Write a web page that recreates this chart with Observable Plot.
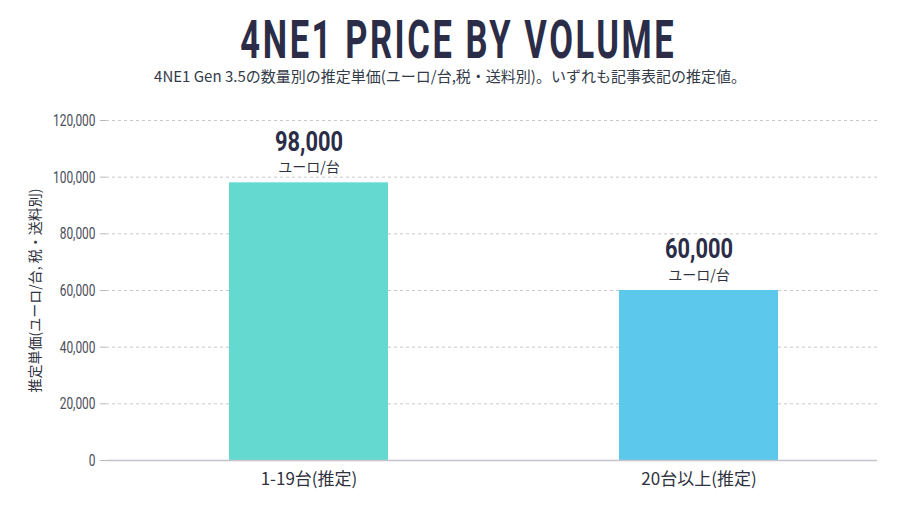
<!DOCTYPE html>
<html>
<head>
<meta charset="utf-8">
<script src="https://cdn.jsdelivr.net/npm/d3@7"></script>
<script src="https://cdn.jsdelivr.net/npm/@observablehq/plot@0.6"></script>
<style>
  html, body { margin: 0; padding: 0; background: #ffffff; }
  #wrap { width: 900px; height: 506px; position: relative; overflow: hidden; }
  #head { height: 100px; text-align: center; position: relative; }
  #title { position: absolute; left: 16px; right: 0; top: 16px; text-align: center;
    font-family: Roboto, "DejaVu Sans", sans-serif; font-weight: bold;
    font-size: 53px; line-height: 48px; height: 48px; letter-spacing: 4px; color: #2b2d48; }
  #title span { display: inline-block; transform: scaleX(0.65); transform-origin: 50% 50%; }
  #sub { position: absolute; left: 0; right: 0; top: 67px; text-align: center;
    font-family: "Noto Sans CJK JP", "Noto Sans", sans-serif; font-size: 15px; line-height: 18px; color: #333a48; }
</style>
</head>
<body>
<div id="wrap">
  <div id="head">
    <div id="title"><span>4NE1 PRICE BY VOLUME</span></div>
    <div id="sub">4NE1 Gen 3.5の数量別の推定単価(ユーロ/台,税・送料別)。いずれも記事表記の推定値。</div>
  </div>
  <div id="chart"></div>
</div>
<script>
const categories = ["1-19台(推定)", "20台以上(推定)"];
const prices = [98000, 60000];
const unitLabels = ["ユーロ/台", "ユーロ/台"];
const valueLabels = ["98,000", "60,000"];
const barColors = ["#63d9cf", "#5bc8ec"];
const yTicks = [0, 20000, 40000, 60000, 80000, 100000, 120000];

const data = categories.map((c, i) => ({cat: c, price: prices[i], unit: unitLabels[i], label: valueLabels[i], color: barColors[i]}));

const cjk = '"Noto Sans CJK JP", "Noto Sans", sans-serif';
const fmt = d3.format(",");

const chart = Plot.plot({
  width: 900,
  height: 406,
  marginTop: 20,
  marginBottom: 46,
  marginLeft: 106,
  marginRight: 23,
  style: {background: "transparent", fontFamily: cjk},
  x: {domain: categories, paddingInner: 0.593, paddingOuter: 0.284, align: 0.555, label: null},
  y: {domain: [0, 120000], label: null},
  marks: [
    Plot.gridY(yTicks, {stroke: "#c8c8cc", strokeOpacity: 1, strokeDasharray: "3,3"}),
    Plot.barY(data, {x: "cat", y: "price", fill: "color"}),
    Plot.ruleX([0], {frameAnchor: "left", stroke: "#b8b8be"}),
    Plot.ruleY([0], {stroke: "#c4c4ca", strokeWidth: 1.5}),
    Plot.axisY(yTicks, {tickFormat: fmt, tickSize: 6, tickPadding: 5, stroke: "#b8b8be", fill: "#4a4d5a", fontSize: 17, fontFamily: "Roboto, sans-serif",
      label: "推定単価(ユーロ/台, 税・送料別)", labelAnchor: "center", labelArrow: "none", labelOffset: 76}),
    Plot.axisX({tickSize: 0, tickPadding: 12, fontSize: 17, fill: "#2f3240", label: null}),
    Plot.text(data, {x: "cat", y: "price", text: "label", dy: -41, fontSize: 28, fontWeight: "bold", fontFamily: "Roboto, sans-serif", fill: "#2b2d48"}),
    Plot.text(data, {x: "cat", y: "price", text: "unit", dy: -15, fontSize: 14, fill: "#2f3240"})
  ]
});
document.getElementById("chart").appendChild(chart);

function compress(el, target) {
  el.setAttribute("textLength", target.toFixed(1));
  el.setAttribute("lengthAdjust", "spacingAndGlyphs");
}
const yTickTexts = new Set(chart.querySelectorAll('g[aria-label="y-axis tick label"] text'));
yTickTexts.forEach(t => {
  t.setAttribute("font-size", "17");
  compress(t, t.getComputedTextLength() * 0.7);
});
chart.querySelectorAll("text").forEach(t => {
  if (!yTickTexts.has(t) && valueLabels.includes(t.textContent)) compress(t, 68);
  if (t.textContent.startsWith("推定単価")) { t.setAttribute("font-size", "14"); t.setAttribute("font-family", cjk); t.setAttribute("fill", "#2f3240"); }
});
</script>
</body>
</html>
